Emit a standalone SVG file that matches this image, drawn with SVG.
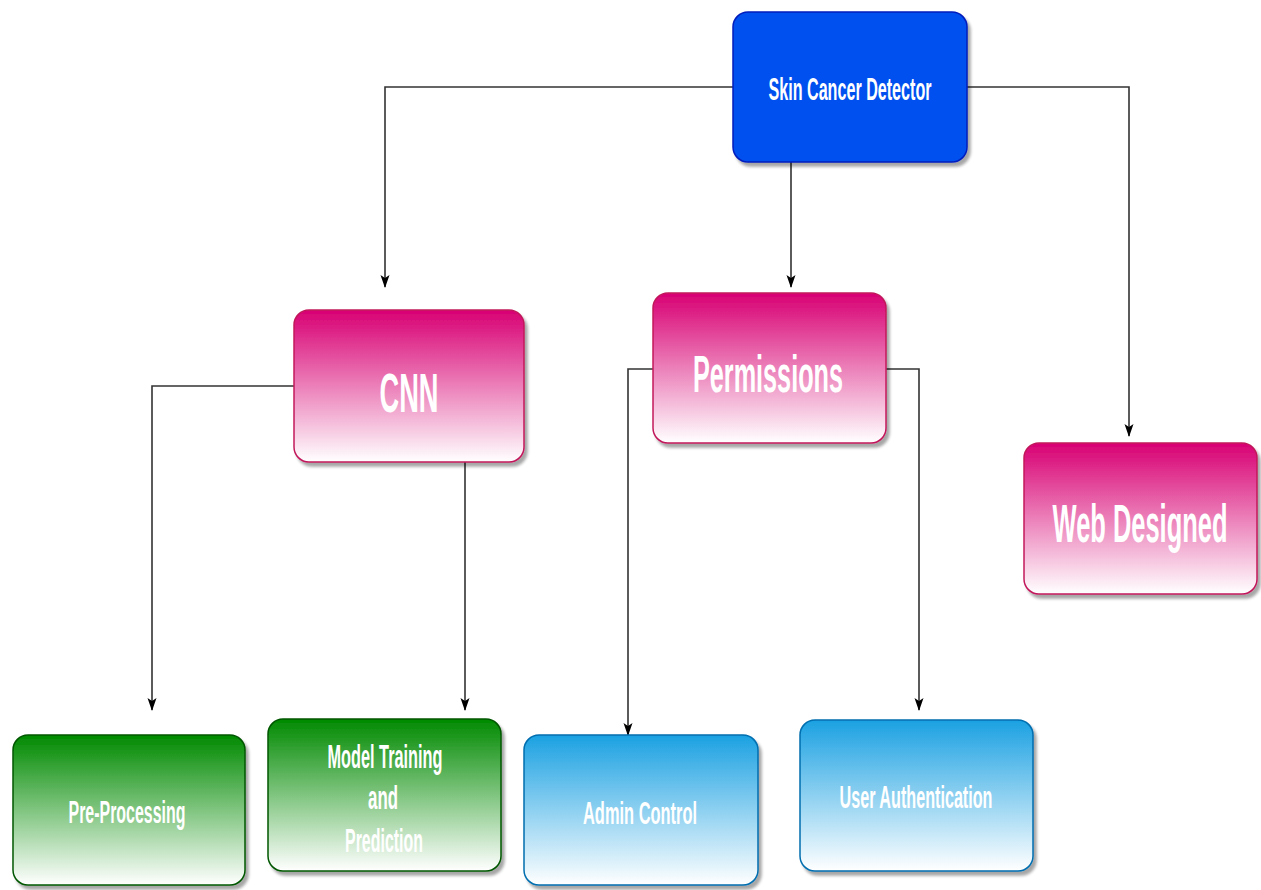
<svg xmlns="http://www.w3.org/2000/svg" width="1261" height="890" viewBox="0 0 1261 890">
  <defs>
    <linearGradient id="gPink" x1="0" y1="0" x2="0" y2="1">
      <stop offset="0" stop-color="#d80073"/>
      <stop offset="1" stop-color="#ffffff"/>
    </linearGradient>
    <linearGradient id="gGreen" x1="0" y1="0" x2="0" y2="1">
      <stop offset="0" stop-color="#008a00"/>
      <stop offset="1" stop-color="#ffffff"/>
    </linearGradient>
    <linearGradient id="gCyan" x1="0" y1="0" x2="0" y2="1">
      <stop offset="0" stop-color="#1ba1e2"/>
      <stop offset="1" stop-color="#ffffff"/>
    </linearGradient>
    <filter id="shadow" x="-10%" y="-10%" width="130%" height="130%">
      <feGaussianBlur in="SourceAlpha" stdDeviation="1.5"/>
      <feOffset dx="3" dy="4" result="off"/>
      <feComponentTransfer><feFuncA type="linear" slope="0.35"/></feComponentTransfer>
      <feMerge><feMergeNode/><feMergeNode in="SourceGraphic"/></feMerge>
    </filter>
    <marker id="arrow" markerUnits="userSpaceOnUse" markerWidth="13" markerHeight="10" refX="12" refY="5" orient="auto" viewBox="0 0 13 10">
      <path d="M0,0.5 L13,5 L0,9.5 L3,5 Z" fill="#000"/>
    </marker>
    <style>
      .box { stroke-width: 1.5; filter: url(#shadow); }
      .blue { fill: #0050ef; stroke: #001dbc; }
      .pink { fill: url(#gPink); stroke: #c2185b; }
      .green { fill: url(#gGreen); stroke: #005700; }
      .cyan { fill: url(#gCyan); stroke: #006eaf; }
      .lbl { font-family: "Liberation Sans", Arial, sans-serif; font-weight: bold; fill: #ffffff; text-anchor: middle; }
      .edge { fill: none; stroke: #333333; stroke-width: 1.6; marker-end: url(#arrow); }
    </style>
  </defs>

  <g id="connectors">
    <path class="edge" d="M733,87 H385 V287"/>
    <path class="edge" d="M967,87 H1129 V436"/>
    <path class="edge" d="M791,162 V287"/>
    <path class="edge" d="M294,386 H152 V710"/>
    <path class="edge" d="M465,462 V710"/>
    <path class="edge" d="M653,369 H628 V735"/>
    <path class="edge" d="M886,369 H919 V710"/>
  </g>

  <g id="skin-cancer-detector">
    <rect class="box blue" x="733" y="12" width="234" height="150" rx="15"/>
    <text class="lbl" x="850" y="100" font-size="32" textLength="163" lengthAdjust="spacingAndGlyphs">Skin Cancer Detector</text>
  </g>

  <g id="cnn">
    <rect class="box pink" x="294" y="310" width="230" height="152" rx="15"/>
    <text class="lbl" x="409" y="412" font-size="55" textLength="59" lengthAdjust="spacingAndGlyphs">CNN</text>
  </g>

  <g id="permissions">
    <rect class="box pink" x="653" y="293" width="233" height="150" rx="15"/>
    <text class="lbl" x="768" y="392" font-size="52" textLength="150" lengthAdjust="spacingAndGlyphs">Permissions</text>
  </g>

  <g id="web-designed">
    <rect class="box pink" x="1024" y="443" width="233" height="151" rx="15"/>
    <!-- condensed label: horizontal squeeze keeps the tall glyphs inside the box -->
    <text class="lbl" transform="translate(1140,542) scale(0.47,1)" x="0" y="0" font-size="54" textLength="372" lengthAdjust="spacingAndGlyphs">Web Designed</text>
  </g>

  <g id="pre-processing">
    <rect class="box green" x="13" y="735" width="232" height="150" rx="15"/>
    <text class="lbl" x="127" y="823" font-size="32" textLength="117" lengthAdjust="spacingAndGlyphs">Pre-Processing</text>
  </g>

  <g id="model-training">
    <rect class="box green" x="268" y="719" width="233" height="152" rx="15"/>
    <text class="lbl" x="385" y="768" font-size="34" textLength="115" lengthAdjust="spacingAndGlyphs">Model Training</text>
    <text class="lbl" x="383" y="809" font-size="34" textLength="30" lengthAdjust="spacingAndGlyphs">and</text>
    <text class="lbl" x="384" y="852" font-size="34" textLength="78" lengthAdjust="spacingAndGlyphs">Prediction</text>
  </g>

  <g id="admin-control">
    <rect class="box cyan" x="524" y="735" width="234" height="150" rx="15"/>
    <text class="lbl" x="640" y="824" font-size="32" textLength="114" lengthAdjust="spacingAndGlyphs">Admin Control</text>
  </g>

  <g id="user-authentication">
    <rect class="box cyan" x="800" y="720" width="233" height="151" rx="15"/>
    <text class="lbl" x="916" y="808" font-size="32" textLength="153" lengthAdjust="spacingAndGlyphs">User Authentication</text>
  </g>
</svg>
